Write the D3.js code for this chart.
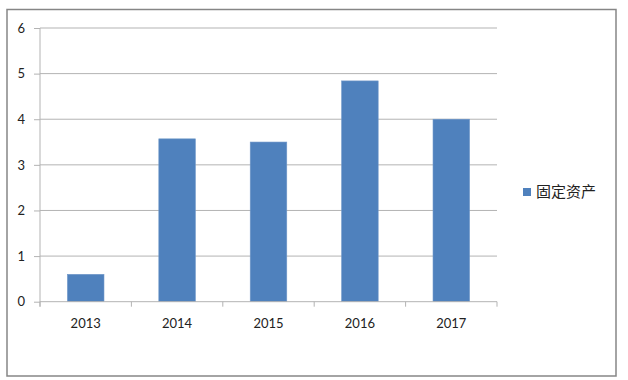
<!DOCTYPE html>
<html><head><meta charset="utf-8">
<script src="https://cdn.jsdelivr.net/npm/d3@7"></script>
<style>body{margin:0;background:#fff}svg{display:block}</style>
</head><body>
<svg id="c" width="628" height="380"></svg>
<script>
const categories = ["2013","2014","2015","2016","2017"];
const values = [0.6, 3.57, 3.5, 4.84, 4.0];
const yTicks = [0,1,2,3,4,5,6];
const seriesName = "固定资产";

const svg = d3.select("#c");
const m = {left:40, right:497, top:28, bottom:301.7};
const x = d3.scaleBand().domain(categories).range([m.left, m.right]).paddingInner(0.6).paddingOuter(0.3);
const xb = d3.scaleBand().domain(categories).range([m.left, m.right]);
const y = d3.scaleLinear().domain([0,6]).range([m.bottom, m.top]);

svg.append("rect").attr("x",7).attr("y",9.5).attr("width",609).attr("height",366.5)
  .attr("fill","#fff").attr("stroke","#868686").attr("stroke-width",1.5);

// gridlines
svg.append("g").selectAll("line").data(yTicks.filter(d=>d>0)).join("line")
  .attr("x1",m.left).attr("x2",m.right).attr("y1",d=>y(d)).attr("y2",d=>y(d))
  .attr("stroke","#b3b3b3").attr("stroke-width",1);

// y axis
const ya = d3.axisLeft(y).tickValues(yTicks).tickSize(6).tickPadding(9).tickFormat(d3.format("d"));
const gy = svg.append("g").attr("transform",`translate(${m.left},0)`).call(ya);
gy.select(".domain").attr("stroke","#b3b3b3").attr("d",`M-0,${m.bottom+5}V${m.top}`);
gy.selectAll(".tick line").attr("stroke","#b3b3b3");
gy.selectAll("text").attr("font-family","Lato, 'Open Sans', sans-serif").attr("font-size",13).attr("fill","#222");

// bars
svg.append("g").selectAll("rect").data(categories).join("rect")
  .attr("x",d=>x(d)).attr("width",x.bandwidth())
  .attr("y",(d,i)=>y(values[i])).attr("height",(d,i)=>y(0)-y(values[i]))
  .attr("fill","#4f81bd").attr("stroke","#6f97c8").attr("stroke-width",0.6);

// x axis
const gx = svg.append("g").attr("transform",`translate(0,${m.bottom})`);
gx.append("line").attr("x1",m.left).attr("x2",m.right).attr("stroke","#b3b3b3");
const bounds = categories.map(d=>xb(d)).concat([m.right]);
gx.selectAll("line.t").data(bounds).join("line").attr("class","t")
  .attr("x1",d=>d).attr("x2",d=>d).attr("y1",0).attr("y2",5).attr("stroke","#b3b3b3");
gx.selectAll("text").data(categories).join("text")
  .attr("x",d=>xb(d)+xb.bandwidth()/2).attr("y",26).attr("text-anchor","middle")
  .attr("font-family","Lato, 'Open Sans', sans-serif").attr("font-size",13).attr("fill","#222")
  .text(d=>d);

// legend
const lg = svg.append("g").attr("transform","translate(523,188)");
lg.append("rect").attr("width",8).attr("height",8).attr("fill","#4f81bd");
lg.append("text").attr("x",13).attr("y",9).attr("font-family","'Noto Sans CJK SC', sans-serif")
  .attr("font-size",15).attr("fill","#222").text(seriesName);
</script>
</body></html>
